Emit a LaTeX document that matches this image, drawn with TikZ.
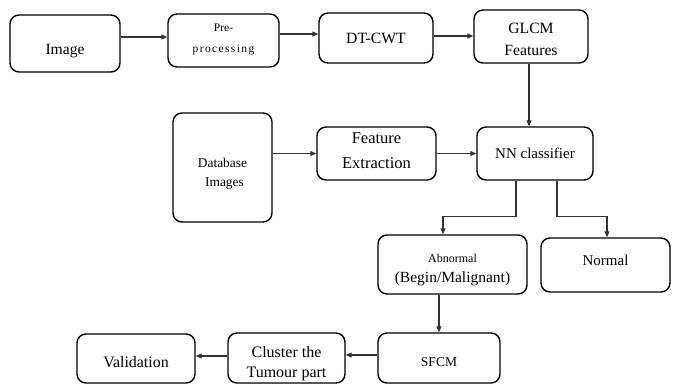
\documentclass[tikz,border=0pt]{standalone}
\usepackage{fontspec}
\setmainfont{Liberation Serif}
\usetikzlibrary{arrows.meta}
\newcommand\fsz[2]{\fontsize{#1}{#2}\selectfont}
\begin{document}
\begin{tikzpicture}[x=1pt,y=-1pt,
  box/.style={draw, line width=1.4pt, rounded corners=9pt, align=center, inner sep=0pt},
  th/.style 2 args={text height=#1, text depth=#2},
  arr/.style={draw=black!80, line width=1.1pt, -{Triangle[length=6pt,width=5pt]}}]
\useasboundingbox (0,0) rectangle (683,385);
\node[box, minimum width=110pt, minimum height=57pt, font=\fsz{15.6}{20}, th={21.2pt}{0pt}] (img) at (65,43.5) {Image};
\node[box, minimum width=111pt, minimum height=53pt, font=\fsz{11.5}{21}, th={24.2pt}{0pt}] (pre) at (223.5,40.5) {Pre-\\\addfontfeatures{LetterSpace=12}processing};
\node[box, minimum width=114pt, minimum height=50pt, font=\fsz{15.7}{20}] (dt) at (376,38) {DT-CWT};
\node[box, minimum width=114pt, minimum height=53pt, font=\fsz{15.7}{22}, th={37.4pt}{0pt}] (glcm) at (531,36.5) {GLCM\\Features};
\node[box, minimum width=99pt, minimum height=109pt, font=\fsz{13.4}{19}, th={37pt}{0pt}] (db) at (222.5,167.5) {Database\\\hspace*{4pt}Images};
\node[box, minimum width=119pt, minimum height=53pt, font=\fsz{16.5}{25}, th={29.8pt}{0pt}] (fe) at (376.5,153.5) {Feature\\Extraction};
\node[box, minimum width=116pt, minimum height=53pt, font=\fsz{15}{20}] (nn) at (535,153.5) {NN classifier};
\node[box, minimum width=149pt, minimum height=59pt, font=\fsz{15.5}{20}, th={35pt}{0pt}] (ab) at (452.5,264.5) {{\fsz{12}{20}Abnormal}\\(Begin/Malignant)};
\node[box, minimum width=129pt, minimum height=54pt, font=\fsz{15}{20}, th={10pt}{10pt}] (nor) at (605.5,265) {Normal};
\node[box, minimum width=122pt, minimum height=50pt, font=\fsz{13.5}{20}, th={17pt}{0pt}] (sfcm) at (439,358) {SFCM};
\node[box, minimum width=117pt, minimum height=50pt, font=\fsz{16}{19.5}, th={38.6pt}{0pt}] (cl) at (286.5,358) {Cluster the\\Tumour part};
\node[box, minimum width=118pt, minimum height=49pt, font=\fsz{15.9}{20}, th={17.4pt}{0pt}] (val) at (136,358.5) {Validation};
\draw[arr] ([yshift=6.5pt]img.east) -- ([yshift=3.5pt]pre.west);
\draw[arr] ([yshift=6.5pt]pre.east) -- ([yshift=4pt]dt.west);
\draw[arr] ([yshift=2pt]dt.east) -- ([yshift=0.5pt]glcm.west);
\draw[arr] ([xshift=-2pt]glcm.south) -- ([xshift=-6pt]nn.north);
\draw[arr] (db.east |- fe.west) -- (fe.west);
\draw[arr] (fe.east) -- (nn.west);
\draw[arr] ([xshift=-19pt]nn.south) |- ([xshift=-9.5pt,yshift=18pt]ab.north) -- ([xshift=-9.5pt]ab.north);
\draw[arr] ([xshift=22pt]nn.south) |- ([xshift=1.5pt,yshift=21pt]nor.north) -- ([xshift=1.5pt]nor.north);
\draw[arr] ([xshift=-13.5pt]ab.south) -- (sfcm.north);
\draw[arr] ([yshift=3pt]sfcm.west) -- ([yshift=3pt]cl.east);
\draw[arr] ([yshift=2pt]cl.west) -- ([yshift=2.5pt]val.east);
\end{tikzpicture}
\end{document}
